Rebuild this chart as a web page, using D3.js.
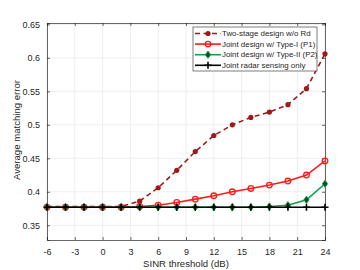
<!DOCTYPE html>
<html lang="en">
<head>
<meta charset="UTF-8">
<title>Average matching error vs SINR threshold</title>
<script src="https://d3js.org/d3.v7.min.js"></script>
<style>
  body { margin: 0; background: #fff; }
  text { font-family: "Liberation Sans", Arial, sans-serif; fill: #262626; }
</style>
</head>
<body>
<script>
// data
var sinr = [-6, -4, -2, 0, 2, 4, 6, 8, 10, 12, 14, 16, 18, 20, 22, 24];
var twoStage = [0.378, 0.378, 0.378, 0.378, 0.378, 0.386, 0.406, 0.432, 0.460, 0.484, 0.500, 0.511, 0.519, 0.530, 0.554, 0.606];
var typeOne  = [0.377, 0.377, 0.377, 0.377, 0.377, 0.378, 0.380, 0.384, 0.389, 0.394, 0.400, 0.405, 0.410, 0.416, 0.425, 0.446];
var typeTwo  = [0.377, 0.377, 0.377, 0.377, 0.377, 0.377, 0.377, 0.377, 0.377, 0.377, 0.377, 0.377, 0.378, 0.380, 0.388, 0.412];
var radarOnly = [0.377, 0.377, 0.377, 0.377, 0.377, 0.377, 0.377, 0.377, 0.377, 0.377, 0.377, 0.377, 0.377, 0.377, 0.377, 0.377];
var xTicks = [-6, -3, 0, 3, 6, 9, 12, 15, 18, 21, 24];
var yTicks = [0.35, 0.4, 0.45, 0.5, 0.55, 0.6, 0.65];
var seriesNames = ["Two-stage design w/o Rd", "Joint design w/ Type-I (P1)", "Joint design w/ Type-II (P2)", "Joint radar sensing only"];

var margin = {top: 23, right: 35, bottom: 30, left: 47},
    width = 360 - margin.left - margin.right,
    height = 270 - margin.top - margin.bottom;

var svg = d3.select("body").append("svg")
    .attr("width", 360)
    .attr("height", 270)
  .append("g")
    .attr("transform", "translate(" + margin.left + "," + margin.top + ")");

var x = d3.scaleLinear().domain([-6, 24]).range([0, width]);
var y = d3.scaleLinear().domain([0.328, 0.652]).range([height, 0]);

// grid
svg.append("g").selectAll("line").data(xTicks).enter().append("line")
    .attr("x1", d => x(d)).attr("x2", d => x(d))
    .attr("y1", 0).attr("y2", height)
    .attr("stroke", "#e6e6e6").attr("stroke-width", 0.7);
svg.append("g").selectAll("line").data(yTicks).enter().append("line")
    .attr("y1", d => y(d)).attr("y2", d => y(d))
    .attr("x1", 0).attr("x2", width)
    .attr("stroke", "#e6e6e6").attr("stroke-width", 0.7);

// axes, ticks pointing inward like matlab
var xAxis = svg.append("g")
    .attr("transform", "translate(0," + height + ")")
    .call(d3.axisBottom(x).tickValues(xTicks).tickSize(-3).tickPadding(9).tickFormat(d => String(d)));
var xTop = svg.append("g")
    .call(d3.axisTop(x).tickValues(xTicks).tickSize(-3).tickFormat(""));
var yAxis = svg.append("g")
    .call(d3.axisLeft(y).tickValues(yTicks).tickSize(-3).tickPadding(7).tickFormat(d => String(d)));
var yRight = svg.append("g")
    .attr("transform", "translate(" + width + ",0)")
    .call(d3.axisRight(y).tickValues(yTicks).tickSize(-3).tickFormat(""));

[xAxis, xTop, yAxis, yRight].forEach(function(g) {
    g.selectAll(".domain").attr("stroke", "#262626").attr("stroke-width", 0.7);
    g.selectAll(".tick line").attr("stroke", "#262626").attr("stroke-width", 0.7);
    g.selectAll("text").style("font-size", "9px").style("font-family", "Liberation Sans, Arial, sans-serif").attr("fill", "#262626");
});

// axis labels
svg.append("text")
    .attr("x", width / 2)
    .attr("y", height + 27)
    .attr("text-anchor", "middle")
    .style("font-size", "9.6px")
    .text("SINR threshold (dB)");
svg.append("text")
    .attr("transform", "rotate(-90)")
    .attr("x", -(130 - margin.top))
    .attr("y", -27)
    .attr("text-anchor", "middle")
    .style("font-size", "9.6px")
    .text("Average matching error");

var line = d3.line().x((d, i) => x(sinr[i])).y(d => y(d));

// marker helpers
function drawMarker(g, kind, cx, cy, color) {
    if (kind === "dot") {
        g.append("circle").attr("cx", cx).attr("cy", cy).attr("r", 2.6).attr("fill", color);
    } else if (kind === "circle") {
        g.append("circle").attr("cx", cx).attr("cy", cy).attr("r", 2.8)
            .attr("fill", "none").attr("stroke", color).attr("stroke-width", 1.3);
    } else if (kind === "diamond") {
        g.append("path")
            .attr("d", "M" + cx + "," + (cy - 3.6) + "L" + (cx + 2.6) + "," + cy + "L" + cx + "," + (cy + 3.6) + "L" + (cx - 2.6) + "," + cy + "Z")
            .attr("fill", "#0a4a1e").attr("stroke", color).attr("stroke-width", 1);
    } else if (kind === "plus") {
        g.append("path")
            .attr("d", "M" + (cx - 3.5) + "," + cy + "H" + (cx + 3.5) + "M" + cx + "," + (cy - 3.5) + "V" + (cy + 3.5))
            .attr("stroke", color).attr("stroke-width", 1.6);
    }
}

var series = [
    {vals: twoStage, color: "#9e1a1a", dash: "5,3.5", width: 1.6, marker: "dot"},
    {vals: typeOne, color: "#ff1a1a", dash: null, width: 1.6, marker: "circle"},
    {vals: typeTwo, color: "#0fa048", dash: null, width: 1.6, marker: "diamond"},
    {vals: radarOnly, color: "#000000", dash: null, width: 1.6, marker: "plus"}
];

series.forEach(function(s) {
    var g = svg.append("g");
    g.append("path")
        .datum(s.vals)
        .attr("d", line)
        .attr("fill", "none")
        .attr("stroke", s.color)
        .attr("stroke-width", s.width)
        .attr("stroke-dasharray", s.dash);
    s.vals.forEach(function(v, i) {
        drawMarker(g, s.marker, x(sinr[i]), y(v), s.color);
    });
});

// legend
var lg = svg.append("g").attr("transform", "translate(" + (193 - margin.left) + "," + (27 - margin.top) + ")");
lg.append("rect")
    .attr("width", 124).attr("height", 44)
    .attr("fill", "#fff").attr("stroke", "#262626").attr("stroke-width", 0.6);
seriesNames.forEach(function(name, i) {
    var s = series[i];
    var ly = 6.5 + i * 10.6;
    lg.append("line")
        .attr("x1", 2).attr("x2", 28).attr("y1", ly).attr("y2", ly)
        .attr("stroke", s.color).attr("stroke-width", s.width)
        .attr("stroke-dasharray", s.dash);
    drawMarker(lg, s.marker, 15, ly, s.color);
    lg.append("text")
        .attr("x", 29).attr("y", ly + 2.7)
        .style("font-size", "7.9px")
        .text(name);
});
</script>
</body>
</html>
